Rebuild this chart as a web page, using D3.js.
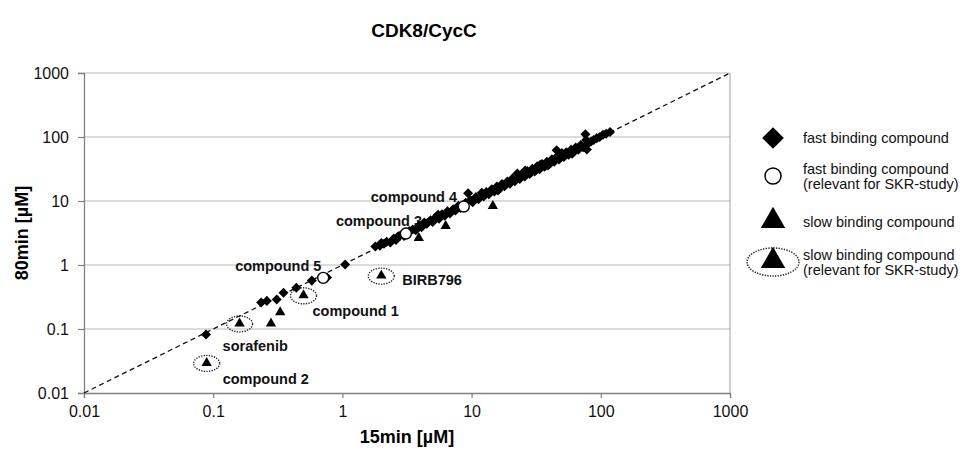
<!DOCTYPE html>
<html>
<head>
<meta charset="utf-8">
<script src="https://cdn.jsdelivr.net/npm/d3@7"></script>
<style>
  body { margin: 0; background: #fff; }
  text { font-family: "Liberation Sans", Arial, sans-serif; }
</style>
</head>
<body>
<div id="chart"></div>
<script>
// values: [15min, 80min] in µM
const fastBinding = [
  [0.088, 0.082], [0.235, 0.26], [0.26, 0.275], [0.31, 0.29], [0.35, 0.37],
  [0.44, 0.44], [0.58, 0.57], [0.76, 0.64], [1.05, 1.02],
  [1.8, 1.95], [1.95, 2.0], [2.0, 2.2], [2.1, 2.15], [2.2, 2.3], [2.35, 2.25], [2.5, 2.6],
  [2.6, 2.45], [2.7, 2.8], [2.8, 2.9], [3.0, 2.85], [3.3, 3.4], [3.5, 3.6], [3.7, 3.5],
  [3.9, 4.1], [4.1, 3.9], [4.3, 4.6], [4.5, 4.4], [4.8, 5.0], [5.0, 4.7],
  [5.3, 5.6], [5.6, 5.3], [5.9, 6.2], [6.2, 5.9], [6.5, 6.9], [6.8, 6.4],
  [7.2, 7.4], [7.5, 7.1], [7.9, 8.4], [8.2, 7.8], [9.4, 13.2], [9.0, 9.4],
  [9.8, 10.3], [10.2, 9.6], [10.8, 11.5], [11.3, 10.7], [11.9, 12.5], [12.4, 11.8],
  [13, 13.8], [13.6, 12.8], [14.3, 15.2], [15, 14.1], [15.7, 16.8], [16.4, 15.5],
  [17.2, 18.4], [18, 17], [18.9, 20.2], [19.8, 18.6], [20.7, 22.4], [21.6, 20.3],
  [22.6, 27], [23.6, 22.1], [24.7, 27], [25.8, 24.2], [27, 29.5], [28.2, 26.4],
  [29.5, 32], [30.8, 28.8], [32.2, 34.8], [33.6, 31.4], [35.1, 37.8], [36.7, 34.3],
  [38.3, 41.2], [40, 37.5], [41.8, 44.8], [43.6, 40.9], [45.5, 62], [45.5, 48.8],
  [47.5, 44.6], [49.6, 53], [51.8, 48.6], [54, 57.8], [56.4, 53], [58.9, 63],
  [61.5, 57.8], [64, 68.5], [67, 63], [70, 75], [73, 69], [76, 110], [77, 90],
  [78, 64], [80, 80], [84, 85], [88, 90], [93, 96], [98, 100], [104, 108],
  [110, 112], [118, 120],
  [5.5, 6.1], [12, 13.4], [16, 14.6], [26, 30], [34, 37], [39, 36], [50, 56], [60, 55]
];
const fastRelevant = [[0.71, 0.63], [3.1, 3.1], [8.7, 8.2]];
const slowBinding = [[0.28, 0.12], [0.33, 0.18], [3.9, 2.6], [6.3, 4.0], [14.6, 8.2]];
const slowRelevant = [[0.16, 0.12], [0.5, 0.33], [0.089, 0.029], [2.0, 0.67]];

const tickValues = [0.01, 0.1, 1, 10, 100, 1000];
const tickLabels = ["0.01", "0.1", "1", "10", "100", "1000"];

// annotation names and the point each one belongs to
const labelNames = ["compound 4", "compound 3", "compound 5", "compound 1", "sorafenib", "compound 2", "BIRB796"];
const labelPoints = [[8.7, 8.2], [3.1, 3.1], [0.71, 0.63], [0.5, 0.33], [0.16, 0.12], [0.089, 0.029], [2.0, 0.67]];

const legendLabels = [
  ["fast binding compound"],
  ["fast binding compound", "(relevant for SKR-study)"],
  ["slow binding compound"],
  ["slow binding compound", "(relevant for SKR-study)"]
];

const width = 972, height = 453;
const margin = { top: 73, right: 242, bottom: 60, left: 84 };
const innerW = width - margin.left - margin.right;
const innerH = height - margin.top - margin.bottom;

const svg = d3.select("#chart").append("svg")
  .attr("width", width)
  .attr("height", height);

const chart = svg.append("g")
  .attr("transform", `translate(${margin.left},${margin.top})`);

const x = d3.scaleLog().domain([0.01, 1000]).range([0, innerW]);
const y = d3.scaleLog().domain([0.01, 1000]).range([innerH, 0]);

// horizontal gridlines
chart.append("g")
  .selectAll("line")
  .data(tickValues.slice(1))
  .join("line")
  .attr("x1", 0).attr("x2", innerW)
  .attr("y1", d => y(d)).attr("y2", d => y(d))
  .attr("stroke", "#b8b8b8")
  .attr("stroke-width", 1);

// right border of the plot area
chart.append("line")
  .attr("x1", innerW).attr("x2", innerW)
  .attr("y1", 0).attr("y2", innerH)
  .attr("stroke", "#a0a0a0");

// axes
const xAxis = d3.axisBottom(x)
  .tickValues(tickValues)
  .tickFormat((d, i) => tickLabels[i])
  .tickSize(5).tickPadding(7);
const yAxis = d3.axisLeft(y)
  .tickValues(tickValues)
  .tickFormat((d, i) => tickLabels[i])
  .tickSize(6).tickPadding(9);

const xg = chart.append("g")
  .attr("transform", `translate(0,${innerH})`)
  .call(xAxis);
const yg = chart.append("g").call(yAxis);

[xg, yg].forEach(g => {
  g.select(".domain").attr("stroke", "#808080").attr("stroke-width", 1.3);
  g.selectAll(".tick line").attr("stroke", "#808080").attr("stroke-width", 1.2);
  g.selectAll(".tick text")
    .attr("fill", "#111")
    .style("font-size", "16px")
    .style("font-family", '"Liberation Sans", Arial, sans-serif');
});
xg.selectAll(".tick text").attr("dy", "0.75em");

// identity line
chart.append("line")
  .attr("x1", x(0.01)).attr("y1", y(0.01))
  .attr("x2", x(1000)).attr("y2", y(1000))
  .attr("stroke", "#111")
  .attr("stroke-width", 1.3)
  .attr("stroke-dasharray", "5,3.5");

const diamond = d3.symbol().type(d3.symbolDiamond2).size(64);
const triangle = d3.symbol().type(d3.symbolTriangle).size(46);

// fast binding diamonds
chart.append("g")
  .selectAll("path")
  .data(fastBinding)
  .join("path")
  .attr("d", diamond)
  .attr("transform", d => `translate(${x(d[0])},${y(d[1])})`)
  .attr("fill", "#000");

// fast binding, relevant: open circles
chart.append("g")
  .selectAll("circle")
  .data(fastRelevant)
  .join("circle")
  .attr("cx", d => x(d[0]))
  .attr("cy", d => y(d[1]))
  .attr("r", 5.5)
  .attr("fill", "#fff")
  .attr("stroke", "#000")
  .attr("stroke-width", 1.4);

// slow binding triangles
chart.append("g")
  .selectAll("path")
  .data(slowBinding.concat(slowRelevant))
  .join("path")
  .attr("d", triangle)
  .attr("transform", d => `translate(${x(d[0])},${y(d[1]) - 0.5})`)
  .attr("fill", "#000");

// dotted ellipses around relevant slow binders
chart.append("g")
  .selectAll("ellipse")
  .data(slowRelevant)
  .join("ellipse")
  .attr("cx", d => x(d[0]))
  .attr("cy", d => y(d[1]))
  .attr("rx", 13)
  .attr("ry", 8)
  .attr("fill", "none")
  .attr("stroke", "#222")
  .attr("stroke-width", 1.4)
  .attr("stroke-dasharray", "1.3,1.3");

// compound labels, offsets relative to their point
const labelOffsets = [
  { dx: -93, dy: -10 }, { dx: -70, dy: -13 }, { dx: -88, dy: -12 },
  { dx: 9, dy: 15 }, { dx: -17, dy: 22 }, { dx: 16, dy: 16 }, { dx: 21, dy: 4 }
];
chart.append("g")
  .selectAll("text")
  .data(labelNames)
  .join("text")
  .attr("x", (d, i) => x(labelPoints[i][0]) + labelOffsets[i].dx)
  .attr("y", (d, i) => y(labelPoints[i][1]) + labelOffsets[i].dy)
  .attr("dy", "0.35em")
  .attr("fill", "#111")
  .style("font-size", "14.5px")
  .style("font-weight", "bold")
  .text(d => d);

// titles
svg.append("text")
  .attr("x", 424).attr("y", 30)
  .attr("text-anchor", "middle")
  .attr("dy", "0.35em")
  .style("font-size", "19px")
  .style("font-weight", "bold")
  .text("CDK8/CycC");

svg.append("text")
  .attr("x", margin.left + innerW / 2).attr("y", 437)
  .attr("text-anchor", "middle")
  .attr("dy", "0.35em")
  .style("font-size", "18px")
  .style("font-weight", "bold")
  .text("15min [µM]");

svg.append("text")
  .attr("transform", `translate(22,${margin.top + innerH / 2}) rotate(-90)`)
  .attr("text-anchor", "middle")
  .attr("dy", "0.35em")
  .style("font-size", "18px")
  .style("font-weight", "bold")
  .text("80min [µM]");

// legend
const legendX = 773, textX = 803;
const legendY = [138, 176, 222, 262];
const legend = svg.append("g");

legend.append("path")
  .attr("d", d3.symbol().type(d3.symbolDiamond2).size(300))
  .attr("transform", `translate(${legendX},${legendY[0]})`);
legend.append("circle")
  .attr("cx", legendX).attr("cy", legendY[1]).attr("r", 8)
  .attr("fill", "#fff").attr("stroke", "#000").attr("stroke-width", 1.5);
legend.append("path")
  .attr("d", d3.symbol().type(d3.symbolTriangle).size(260))
  .attr("transform", `translate(${legendX},${legendY[2] - 1})`);
legend.append("path")
  .attr("d", d3.symbol().type(d3.symbolTriangle).size(260))
  .attr("transform", `translate(${legendX},${legendY[3] - 1})`);
legend.append("ellipse")
  .attr("cx", legendX).attr("cy", legendY[3]).attr("rx", 26).attr("ry", 14)
  .attr("fill", "none").attr("stroke", "#222")
  .attr("stroke-width", 1.5).attr("stroke-dasharray", "1.3,1.3");

legendLabels.forEach((lines, i) => {
  const t = legend.append("text")
    .attr("x", textX)
    .attr("y", legendY[i] - (lines.length - 1) * 7.5)
    .attr("dy", "0.35em")
    .attr("fill", "#111")
    .style("font-size", "14.5px");
  lines.forEach((line, j) => {
    t.append("tspan")
      .attr("x", textX)
      .attr("dy", j === 0 ? "0.35em" : 15)
      .text(line);
  });
});
</script>
</body>
</html>
